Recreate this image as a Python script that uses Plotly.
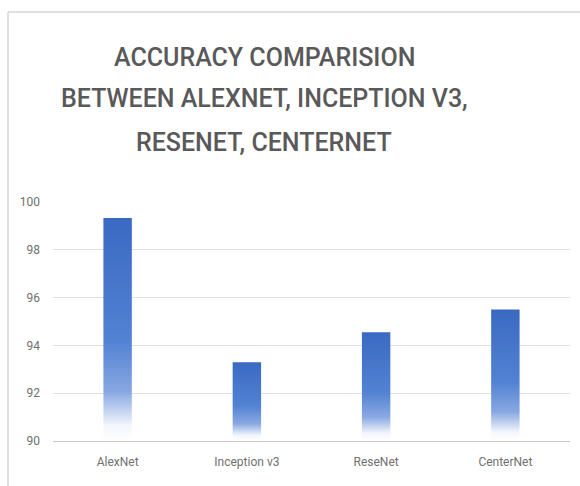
import plotly.graph_objects as go

# Model accuracies (%)
models = ["AlexNet", "Inception v3", "ReseNet", "CenterNet"]
accuracy = [99.33, 93.3, 94.55, 95.5]

title_lines = ["ACCURACY COMPARISION", "BETWEEN ALEXNET, INCEPTION V3,", "RESENET, CENTERNET"]
y_ticks = [90, 92, 94, 96, 98, 100]

BASE = 90
BAR_WIDTH = 0.22

W, H = 580, 486
ML, MR, MT, MB = 53, 10, 202, 45
plot_w = W - ML - MR
plot_h = H - MT - MB

GRAD = [[0.0, "#ffffff"], [0.07, "#f2f6fd"], [0.22, "#89a8e2"],
        [0.45, "#5282d3"], [1.0, "#3a69c2"]]

FONT = "Roboto"


def px_x(p):
    return (p - ML) / plot_w


def px_y(p):
    return (H - MB - p) / plot_h


fig = go.Figure()

# Bars drawn as filled rectangles so they can carry a vertical colour gradient
for i, (name, val) in enumerate(zip(models, accuracy)):
    x0, x1 = i - BAR_WIDTH / 2, i + BAR_WIDTH / 2
    fig.add_trace(go.Scatter(
        x=[x0, x1, x1, x0, x0],
        y=[BASE, BASE, val, val, BASE],
        mode="lines",
        line=dict(width=0),
        fill="toself",
        fillgradient=dict(type="vertical", colorscale=GRAD, start=BASE, stop=val),
        name=name,
        hoverinfo="skip",
        showlegend=False,
    ))

# Title, one annotation per line
line_y = [57, 99, 142]
for txt, yp in zip(title_lines, line_y):
    fig.add_annotation(
        text=txt, xref="paper", yref="paper",
        x=px_x(264), y=px_y(yp),
        xanchor="center", yanchor="middle", showarrow=False,
        font=dict(family=FONT, size=25, color="#595959", weight=500),
    )

# Chart frame: top and left edges
frame = dict(color="#d6d6d6", width=1.5)
fig.add_shape(type="line", xref="paper", yref="paper",
              x0=px_x(8), x1=px_x(580), y0=px_y(12), y1=px_y(12), line=frame)
fig.add_shape(type="line", xref="paper", yref="paper",
              x0=px_x(8), x1=px_x(8), y0=px_y(12), y1=px_y(486), line=frame)

fig.update_layout(
    width=W, height=H,
    margin=dict(l=ML, r=MR, t=MT, b=MB),
    paper_bgcolor="white", plot_bgcolor="white",
    xaxis=dict(
        range=[-0.5, len(models) - 0.5],
        tickvals=list(range(len(models))), ticktext=models,
        showgrid=False, zeroline=False,
        showline=True, linecolor="#c8c8c8", linewidth=1,
        ticks="", ticklabelstandoff=10,
        tickfont=dict(family=FONT, size=12, color="#707070"),
        fixedrange=True,
    ),
    yaxis=dict(
        range=[BASE, 100], tickvals=y_ticks,
        showgrid=True, gridcolor="#e0e0e0", gridwidth=1,
        zeroline=False, showline=False, ticks="", ticklabelstandoff=12,
        tickfont=dict(family=FONT, size=12, color="#707070"),
        fixedrange=True,
    ),
)

fig.write_html("out.html")
